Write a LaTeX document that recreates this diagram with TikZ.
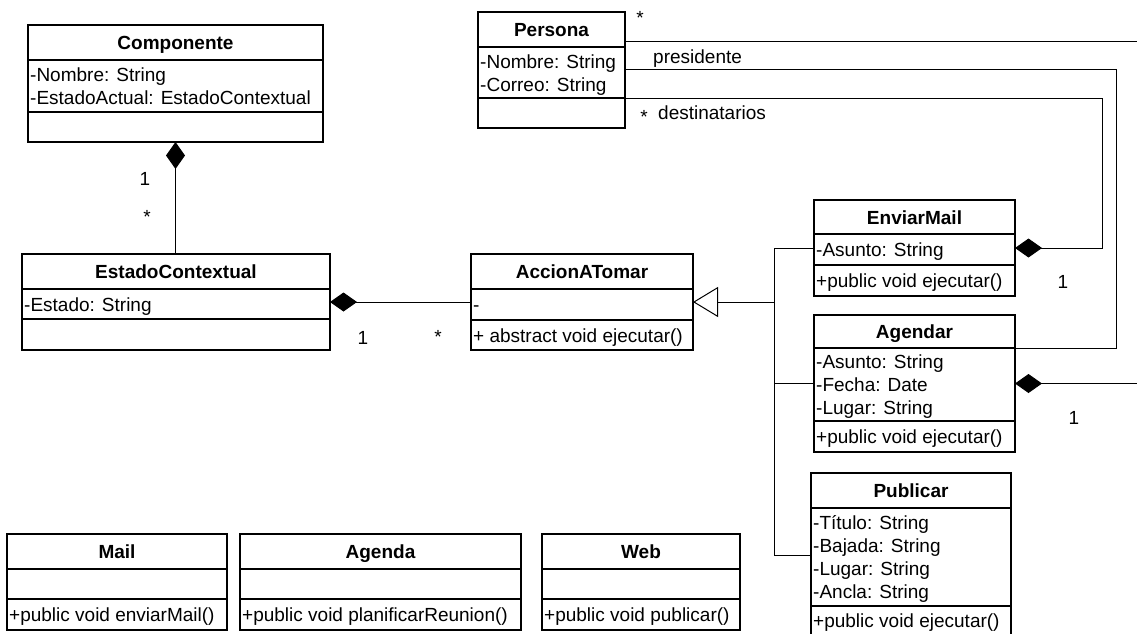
\documentclass[tikz,border=0pt]{standalone}
\usepackage{fontspec}
\setmainfont{Liberation Sans}
\usetikzlibrary{arrows.meta,calc}

\newcommand{\umlfont}{\fontsize{19}{23}\selectfont}

\tikzset{
  classbox/.style={draw=black, line width=1.3pt, rectangle, inner sep=0pt, outer sep=0pt, anchor=north west},
  sepline/.style={draw=black, line width=1.3pt},
  clstitle/.style={font=\umlfont\bfseries, inner sep=0pt, anchor=base},
  clsmember/.style={font=\umlfont, inner sep=0pt, anchor=base west},
  multlabel/.style={font=\umlfont, inner sep=0pt, anchor=base},
  assoc/.style={draw=black, line width=1pt},
  comp/.style={assoc, {Diamond[length=27pt,width=19pt]}-},
  inherit/.style={assoc, {Triangle[open,length=25pt,width=30pt,line width=1pt]}-},
}

% #1 name, #2 left, #3 top, #4 right, #5 bottom, #6 title separator, #7 member separator, #8 title
\newcommand{\umlclass}[8]{%
  \node[classbox, minimum width={(#4-#2)*1pt}, minimum height={(#5-#3)*1pt}] (#1) at (#2,#3) {};
  \draw[sepline] (#2,#6) -- (#4,#6) (#2,#7) -- (#4,#7);
  \node[clstitle] (#1-title) at ({(#2+#4)/2},{(#3+#6)/2+7}) {#8};
}

\begin{document}
\begin{tikzpicture}[x=1pt, y=-1pt]
\useasboundingbox (0,0) rectangle (1137,633);
\clip (0,0) rectangle (1137,633);

% classes
\umlclass{comp}{28}{25}{323}{142}{60}{112}{Componente}
\node[clsmember] (comp-a1) at (30,81.5) {-Nombre: String};
\node[clsmember] (comp-a2) at (30,104.5) {-EstadoActual: EstadoContextual};

\umlclass{persona}{478}{12}{625}{128}{47}{98}{Persona}
\node[clsmember] (persona-a1) at (480,68) {-Nombre: String};
\node[clsmember] (persona-a2) at (480,91) {-Correo: String};

\umlclass{estado}{22}{254}{330}{350}{289}{319}{EstadoContextual}
\node[clsmember] (estado-a1) at (24,311) {-Estado: String};

\umlclass{accion}{471}{254}{693}{350}{289}{320}{AccionATomar}
\node[clsmember] (accion-a1) at (473,311.5) {-};
\node[clsmember] (accion-o1) at (473,342) {+ abstract void ejecutar()};

\umlclass{enviar}{814}{200}{1015}{296}{234}{265}{EnviarMail}
\node[clsmember] (enviar-a1) at (816,256.5) {-Asunto: String};
\node[clsmember] (enviar-o1) at (816,287.5) {+public void ejecutar()};

\umlclass{agendar}{814}{315}{1015}{452}{348}{421}{Agendar}
\node[clsmember] (agendar-a1) at (816,368.5) {-Asunto: String};
\node[clsmember] (agendar-a2) at (816,391.5) {-Fecha: Date};
\node[clsmember] (agendar-a3) at (816,414.5) {-Lugar: String};
\node[clsmember] (agendar-o1) at (816,443.5) {+public void ejecutar()};

\umlclass{publicar}{811}{473}{1011}{637}{508}{606}{Publicar}
\node[clsmember] (publicar-a1) at (813,529.5) {-Título: String};
\node[clsmember] (publicar-a2) at (813,552.5) {-Bajada: String};
\node[clsmember] (publicar-a3) at (813,575.5) {-Lugar: String};
\node[clsmember] (publicar-a4) at (813,598.5) {-Ancla: String};
\node[clsmember] (publicar-o1) at (813,627.5) {+public void ejecutar()};

\umlclass{mail}{7}{534}{227}{630}{569}{599}{Mail}
\node[clsmember] (mail-o1) at (9,621.5) {+public void enviarMail()};

\umlclass{agenda}{240}{534}{521}{630}{569}{599}{Agenda}
\node[clsmember] (agenda-o1) at (242,621.5) {+public void planificarReunion()};

\umlclass{web}{542}{534}{740}{630}{569}{599}{Web}
\node[clsmember] (web-o1) at (544,621.5) {+public void publicar()};

% composition: Componente - EstadoContextual
\draw[comp] (comp.south) -- (estado.north -| comp.south);
\node[multlabel] (m-comp) at (145,185) {1};
\node[multlabel] (m-estado) at (147,223) {*};

% composition: EstadoContextual - AccionATomar
\draw[comp] (estado.east) -- (accion.west);
\node[multlabel] (m-estado2) at (363,344) {1};
\node[multlabel] (m-accion) at (438,343) {*};

% generalisation of the three actions
\coordinate (jn) at (774,302);
\draw[inherit] (accion.east) -- (jn);
\draw[assoc] (enviar.west) -| (jn |- publicar.west) -- (publicar.west);
\draw[assoc] (jn |- agendar.west) -- (agendar.west);

% associations of Persona
\coordinate (pA) at ($(persona.north east)+(0,29)$);
\coordinate (pB) at ($(persona.north east)+(0,57)$);
\coordinate (pC) at ($(persona.north east)+(0,86)$);
\coordinate (edgeA) at (1140,41);
\draw[assoc] (pA) -- (edgeA);
\node[multlabel] (m-persona) at (640,24) {*};

\coordinate (presCol) at (1116,0);
\coordinate (presEnd) at ($(agendar.north east)+(0,33)$);
\draw[assoc] (pB) -| (presCol |- presEnd) -- (presEnd);
\node[clsmember] (l-pres) at (653,63) {presidente};

\coordinate (destCol) at (1102,0);
\draw[comp] (enviar.east) -| (destCol |- pC) -- (pC);
\node[multlabel] (m-dest) at (644,123) {*};
\node[clsmember] (l-dest) at (658,119) {destinatarios};
\node[multlabel] (m-enviar) at (1063,288) {1};

% composition leaving Agendar
\coordinate (edgeD) at (1140,0);
\draw[comp] (agendar.east) -- (agendar.east -| edgeD);
\node[multlabel] (m-agendar) at (1074,424) {1};
\end{tikzpicture}
\end{document}
